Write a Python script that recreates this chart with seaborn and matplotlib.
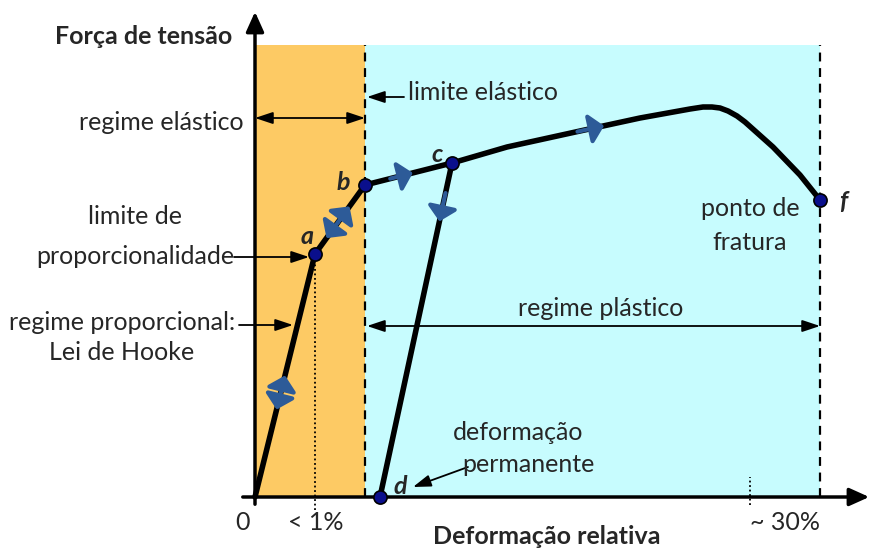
import matplotlib
matplotlib.use("Agg")
import matplotlib.pyplot as plt
from matplotlib.patches import FancyArrowPatch
import seaborn as sns
import pandas as pd
import numpy as np

# ---- data (strain units ~ from origin, stress units) ----
load_x = [0, 60, 110, 197, 252, 325, 385, 435, 448, 457, 465, 473, 482, 490, 518, 545, 565]
load_y = [0, 243, 312, 334, 350, 366, 379, 388, 390, 390, 389, 386, 381, 375, 350, 322, 297]
unload_x = [197, 125]
unload_y = [334, 0]
point_names = ["a", "b", "c", "f", "d"]
point_x = [60, 110, 197, 565, 125]
point_y = [243, 312, 334, 297, 0]
elastic_limit_x = 110
fracture_x = 565
x_ticks = [0, 60, 495]
x_tick_labels = ["0", "< 1%", "~ 30%"]

sns.set_theme(style="white")
plt.rcParams["font.family"] = ["Lato", "DejaVu Sans"]

fig = plt.figure(figsize=(8.78, 5.51), dpi=100)
ax = fig.add_axes([0, 0, 1, 1])

TOP = 452
ORANGE = "#FDCA64"
CYAN = "#C7FCFE"
BLUE = "#2D5B98"
FS = 18


def reset():
    ax.set_xlim(-255, 623)
    ax.set_ylim(-54, 497)
    ax.axis("off")


reset()

ax.fill_between([0, elastic_limit_x], 0, TOP, color=ORANGE, lw=0, zorder=0)
ax.fill_between([elastic_limit_x, fracture_x], 0, TOP, color=CYAN, lw=0, zorder=0)
for xv in (elastic_limit_x, fracture_x):
    ax.plot([xv, xv], [0, TOP], ls=(0, (4, 3)), color="black", lw=1.6, zorder=1)

# dotted guides
ax.plot([60, 60], [-13, 243], ls=(0, (1, 1.5)), color="black", lw=1.3, zorder=1)
ax.plot([495, 495], [-8, 20], ls=(0, (1, 1.5)), color="black", lw=1.3, zorder=1)

# axes arrows
ax.annotate("", xy=(0, 488), xytext=(0, -10),
            arrowprops=dict(arrowstyle="-|>,head_length=1.0,head_width=0.45", color="black", lw=2.5), zorder=2)
ax.annotate("", xy=(617, 0), xytext=(-15, 0),
            arrowprops=dict(arrowstyle="-|>,head_length=1.0,head_width=0.45", color="black", lw=2.5), zorder=2)

# curves
df_load = pd.DataFrame({"x": load_x, "y": load_y})
df_unload = pd.DataFrame({"x": unload_x, "y": unload_y})
sns.lineplot(data=df_load, x="x", y="y", sort=False, color="black", lw=4,
             ax=ax, zorder=3, solid_joinstyle="round")
sns.lineplot(data=df_unload, x="x", y="y", sort=False, color="black", lw=4, ax=ax, zorder=3)
reset()


def blue_arrow(p0, p1, f0, f1):
    x0 = p0[0] + (p1[0] - p0[0]) * f0
    y0 = p0[1] + (p1[1] - p0[1]) * f0
    x1 = p0[0] + (p1[0] - p0[0]) * f1
    y1 = p0[1] + (p1[1] - p0[1]) * f1
    arr = FancyArrowPatch((x0, y0), (x1, y1),
                          arrowstyle="-|>,head_length=0.7,head_width=0.75",
                          mutation_scale=12, color=BLUE, lw=3,
                          shrinkA=0, shrinkB=0, zorder=4)
    ax.add_patch(arr)


O = (load_x[0], load_y[0]); A = (load_x[1], load_y[1]); B = (load_x[2], load_y[2])
C = (load_x[3], load_y[3]); D = (unload_x[1], unload_y[1])
# double arrows: two heads pointing away from a common centre
blue_arrow(O, A, 0.43, 0.50)
blue_arrow(O, A, 0.43, 0.36)
blue_arrow(A, B, 0.46, 0.69)
blue_arrow(A, B, 0.46, 0.23)
blue_arrow(B, C, 0.29, 0.55)
blue_arrow((252, 350), (385, 379), 0.53, 0.73)
blue_arrow(C, D, 0.09, 0.175)

# points
df_pts = pd.DataFrame({"name": point_names, "x": point_x, "y": point_y})
sns.scatterplot(data=df_pts, x="x", y="y", color="#0A0F8C", edgecolor="black",
                linewidth=1.2, s=90, ax=ax, zorder=5, legend=False)
reset()

lbl_off = {"a": (-8, 17), "b": (-22, 2), "c": (-15, 8), "f": (23, -1), "d": (20, 10)}
for n, x, y in zip(point_names, point_x, point_y):
    dx, dy = lbl_off[n]
    ax.text(x + dx, y + dy, n, fontsize=FS, fontweight="bold", fontstyle="italic",
            ha="center", va="center", zorder=6)

# tick labels
tick_off = [-12, 1, 35]
for xv, lab, off in zip(x_ticks, x_tick_labels, tick_off):
    ax.text(xv + off, -25, lab, fontsize=FS, ha="center", va="center")

ax.text(292, -40, "Deformação relativa", fontsize=FS, fontweight="bold", ha="center", va="center")
ax.text(-23, 460, "Força de tensão", fontsize=FS, fontweight="bold", ha="right", va="center")


def arrow(xy, xytext, both=False):
    style = "<|-|>" if both else "-|>"
    ax.annotate("", xy=xy, xytext=xytext,
                arrowprops=dict(arrowstyle=style + ",head_length=0.9,head_width=0.3",
                                color="black", lw=1.3, shrinkA=0, shrinkB=0), zorder=2)


ax.text(-94, 374, "regime elástico", fontsize=FS, ha="center", va="center")
arrow((0, 379), (elastic_limit_x, 379), both=True)

ax.text(153, 405, "limite elástico", fontsize=FS, ha="left", va="center")
arrow((elastic_limit_x + 2, 400), (149, 400))

ax.text(-120, 280, "limite de", fontsize=FS, ha="center", va="center")
ax.text(-120, 241, "proporcionalidade", fontsize=FS, ha="center", va="center")
arrow((54, 240), (-21, 240))

ax.text(-133, 174, "regime proporcional:", fontsize=FS, ha="center", va="center")
ax.text(-133, 144, "Lei de Hooke", fontsize=FS, ha="center", va="center")
arrow((38, 172), (-16, 172))

ax.text(346, 188, "regime plástico", fontsize=FS, ha="center", va="center")
arrow((elastic_limit_x + 2, 171), (fracture_x, 171), both=True)

ax.text(495, 289, "ponto de", fontsize=FS, ha="center", va="center")
ax.text(495, 254, "fratura", fontsize=FS, ha="center", va="center")

ax.text(263, 64, "deformação", fontsize=FS, ha="center", va="center")
ax.text(273, 32, "permanente", fontsize=FS, ha="center", va="center")
arrow((158, 10), (213, 30))

fig.savefig("out.png", dpi=100)
